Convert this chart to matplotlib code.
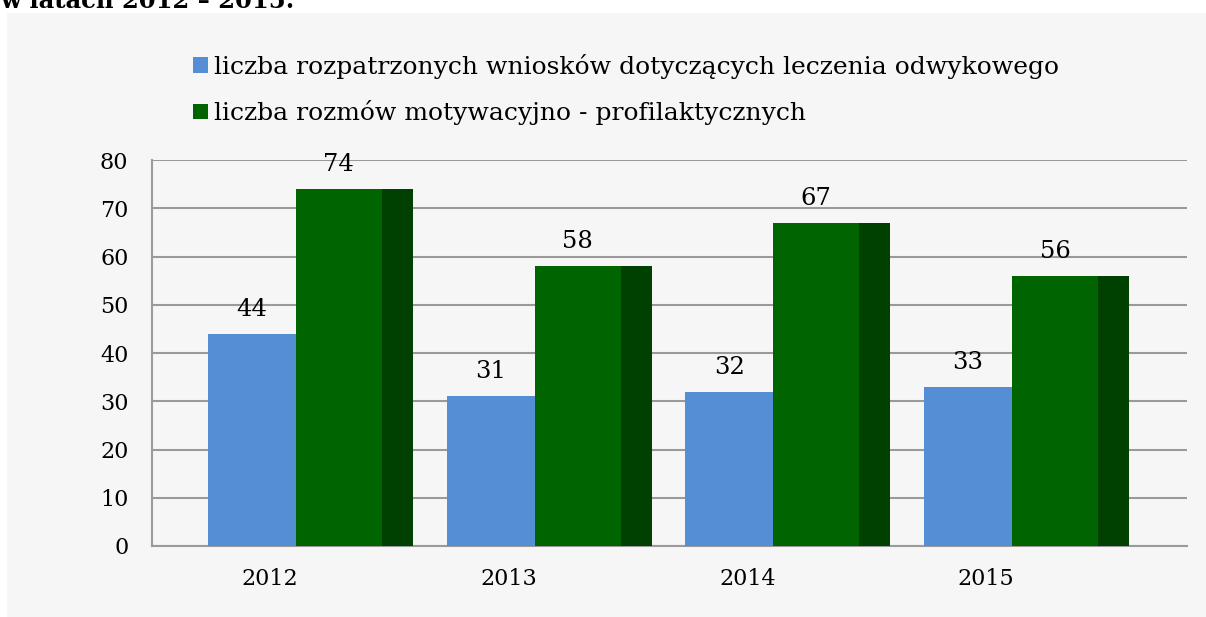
import numpy as np
import matplotlib
matplotlib.use('Agg')
import matplotlib.pyplot as plt
from matplotlib.patches import Rectangle, Patch

plt.rcParams['font.family'] = ['DejaVu Serif']

# dane
years = ['2012', '2013', '2014', '2015']
wnioski = [44, 31, 32, 33]
rozmowy = [74, 58, 67, 56]
legend_labels = ['liczba rozpatrzonych wniosków dotyczących leczenia odwykowego',
                 'liczba rozmów motywacyjno - profilaktycznych']
title_text = 'w latach 2012 – 2015.'

blue = '#558ED5'
green = '#006400'
green_side = '#004000'
grid_col = '#9a9a9a'
bg = '#f6f6f6'

W, H = 1206, 617
fig = plt.figure(figsize=(W / 100, H / 100), dpi=100)
fig.patch.set_facecolor('white')

# szare tlo wykresu
fig.patches.append(Rectangle((7 / W, 0), 1, 1 - 13 / H, transform=fig.transFigure,
                             facecolor=bg, edgecolor='none', zorder=-5))

# ucięty tytuł nad wykresem
fig.text(0.0, 1 - 8 / H, title_text, fontsize=17.5, fontweight='bold',
         va='baseline', ha='left', color='black')

ax = fig.add_axes([152 / W, (H - 546) / H, (1187 - 152) / W, 386 / H])
ax.set_facecolor(bg)

x = np.arange(len(years))
bw_blue = 0.369
bw_green = 0.36
bw_side = 0.13
off_blue = -0.26
off_green = 0.109

ax.bar(x + off_blue, wnioski, width=bw_blue, align='edge', color=blue, zorder=3)
ax.bar(x + off_green, rozmowy, width=bw_green, align='edge', color=green, zorder=3)
ax.bar(x + off_green + bw_green, rozmowy, width=bw_side, align='edge',
       color=green_side, zorder=3)

for xi, v in zip(x, wnioski):
    ax.annotate(str(v), (xi + off_blue + bw_blue / 2, v), xytext=(0, 13),
                textcoords='offset points', ha='center', va='baseline', fontsize=17.5)
for xi, v in zip(x, rozmowy):
    ax.annotate(str(v), (xi + off_green + bw_green / 2, v), xytext=(0, 13),
                textcoords='offset points', ha='center', va='baseline', fontsize=17.5)

ax.set_xlim(-0.494, 3.842)
ax.set_ylim(0, 80)
ax.set_yticks(np.arange(0, 81, 10))
ax.set_xticks(x)
ax.set_xticklabels(years)
ax.tick_params(axis='both', length=0, labelsize=16)
ax.tick_params(axis='y', pad=17)
ax.tick_params(axis='x', pad=16)
ax.yaxis.grid(True, color=grid_col, linewidth=1.5, zorder=1)
ax.set_axisbelow(True)
for s in ['top', 'right']:
    ax.spines[s].set_visible(False)
for s in ['left', 'bottom']:
    ax.spines[s].set_color(grid_col)
    ax.spines[s].set_linewidth(1.5)

handles = [Patch(facecolor=blue), Patch(facecolor=green)]
fig.legend(handles, legend_labels, loc='upper left',
           bbox_to_anchor=(193 / W, 1 - 54 / H), frameon=False, fontsize=18,
           handlelength=0.6, handleheight=0.6, handletextpad=0.25,
           labelspacing=0.85, borderaxespad=0, borderpad=0)

fig.savefig('out.png', dpi=100, facecolor='white')
